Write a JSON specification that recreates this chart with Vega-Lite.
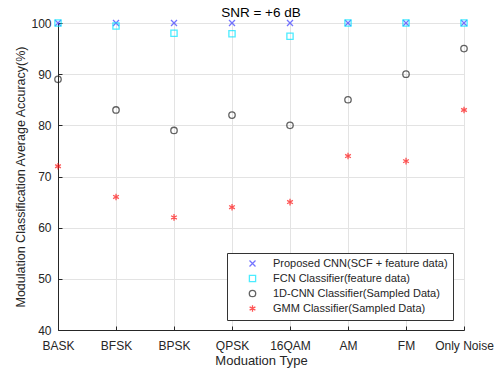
{
  "$schema": "https://vega.github.io/schema/vega-lite/v6.json",
  "width": 406,
  "height": 307,
  "autosize": {"type": "none"},
  "padding": {"left": 58, "top": 23, "right": 33, "bottom": 40},
  "background": "white",
  "title": {"text": "SNR = +6 dB", "fontSize": 13.5, "fontWeight": "normal", "font": "Liberation Sans", "color": "#000000", "offset": -2},
  "data": {"values": [
    {"mod": "BASK", "method": "Proposed CNN(SCF + feature data)", "acc": 100},
    {"mod": "BFSK", "method": "Proposed CNN(SCF + feature data)", "acc": 100},
    {"mod": "BPSK", "method": "Proposed CNN(SCF + feature data)", "acc": 100},
    {"mod": "QPSK", "method": "Proposed CNN(SCF + feature data)", "acc": 100},
    {"mod": "16QAM", "method": "Proposed CNN(SCF + feature data)", "acc": 100},
    {"mod": "AM", "method": "Proposed CNN(SCF + feature data)", "acc": 100},
    {"mod": "FM", "method": "Proposed CNN(SCF + feature data)", "acc": 100},
    {"mod": "Only Noise", "method": "Proposed CNN(SCF + feature data)", "acc": 100},
    {"mod": "BASK", "method": "FCN Classifier(feature data)", "acc": 100},
    {"mod": "BFSK", "method": "FCN Classifier(feature data)", "acc": 99.4},
    {"mod": "BPSK", "method": "FCN Classifier(feature data)", "acc": 98},
    {"mod": "QPSK", "method": "FCN Classifier(feature data)", "acc": 97.9},
    {"mod": "16QAM", "method": "FCN Classifier(feature data)", "acc": 97.4},
    {"mod": "AM", "method": "FCN Classifier(feature data)", "acc": 100},
    {"mod": "FM", "method": "FCN Classifier(feature data)", "acc": 100},
    {"mod": "Only Noise", "method": "FCN Classifier(feature data)", "acc": 100},
    {"mod": "BASK", "method": "1D-CNN Classifier(Sampled Data)", "acc": 89},
    {"mod": "BFSK", "method": "1D-CNN Classifier(Sampled Data)", "acc": 83},
    {"mod": "BPSK", "method": "1D-CNN Classifier(Sampled Data)", "acc": 79},
    {"mod": "QPSK", "method": "1D-CNN Classifier(Sampled Data)", "acc": 82},
    {"mod": "16QAM", "method": "1D-CNN Classifier(Sampled Data)", "acc": 80},
    {"mod": "AM", "method": "1D-CNN Classifier(Sampled Data)", "acc": 85},
    {"mod": "FM", "method": "1D-CNN Classifier(Sampled Data)", "acc": 90},
    {"mod": "Only Noise", "method": "1D-CNN Classifier(Sampled Data)", "acc": 95},
    {"mod": "BASK", "method": "GMM Classifier(Sampled Data)", "acc": 72},
    {"mod": "BFSK", "method": "GMM Classifier(Sampled Data)", "acc": 66},
    {"mod": "BPSK", "method": "GMM Classifier(Sampled Data)", "acc": 62},
    {"mod": "QPSK", "method": "GMM Classifier(Sampled Data)", "acc": 64},
    {"mod": "16QAM", "method": "GMM Classifier(Sampled Data)", "acc": 65},
    {"mod": "AM", "method": "GMM Classifier(Sampled Data)", "acc": 74},
    {"mod": "FM", "method": "GMM Classifier(Sampled Data)", "acc": 73},
    {"mod": "Only Noise", "method": "GMM Classifier(Sampled Data)", "acc": 83}
  ]},
  "mark": {"type": "point", "filled": false, "strokeWidth": 1.3, "clip": false},
  "encoding": {
    "x": {
      "field": "mod", "type": "ordinal",
      "scale": {"type": "point", "padding": 0, "domain": ["BASK", "BFSK", "BPSK", "QPSK", "16QAM", "AM", "FM", "Only Noise"]},
      "axis": {"title": "Moduation Type", "labelAngle": 0, "grid": true, "gridColor": "#e3e3e3",
        "domainColor": "#262626", "tickColor": "#262626", "tickSize": -4, "labelPadding": 14,
        "labelFont": "Liberation Sans", "labelFontSize": 12, "labelColor": "#262626",
        "titleFont": "Liberation Sans", "titleFontSize": 13, "titleFontWeight": "normal", "titleColor": "#262626", "titlePadding": 3}
    },
    "y": {
      "field": "acc", "type": "quantitative",
      "scale": {"domain": [40, 100], "nice": false, "zero": false},
      "axis": {"title": "Modulation Classification Average Accuracy(%)", "values": [40, 50, 60, 70, 80, 90, 100],
        "grid": true, "gridColor": "#e3e3e3", "domainColor": "#262626", "tickColor": "#262626", "tickSize": -4, "labelPadding": 11,
        "labelFont": "Liberation Sans", "labelFontSize": 12, "labelColor": "#262626",
        "titleFont": "Liberation Sans", "titleFontSize": 12.5, "titleFontWeight": "normal", "titleColor": "#262626", "titlePadding": 3}
    },
    "color": {
      "field": "method", "type": "nominal",
      "scale": {"domain": ["Proposed CNN(SCF + feature data)", "FCN Classifier(feature data)", "1D-CNN Classifier(Sampled Data)", "GMM Classifier(Sampled Data)"],
        "range": ["#3a3aff", "#00e5ff", "#222222", "#ff1010"]},
      "legend": {"title": null, "orient": "none", "legendX": 169, "legendY": 230,
        "fillColor": "white", "strokeColor": "#333333", "padding": 5, "rowPadding": 2,
        "symbolOffset": 15, "labelOffset": 15, "labelLimit": 400, "labelFont": "Liberation Sans", "labelFontSize": 11, "labelColor": "#262626",
        "symbolStrokeWidth": 1.3}
    },
    "shape": {
      "field": "method", "type": "nominal",
      "scale": {"domain": ["Proposed CNN(SCF + feature data)", "FCN Classifier(feature data)", "1D-CNN Classifier(Sampled Data)", "GMM Classifier(Sampled Data)"],
        "range": ["M-1,-1L1,1M1,-1L-1,1", "square", "circle", "M0,-1L0,1M-0.87,-0.5L0.87,0.5M-0.87,0.5L0.87,-0.5"]}
    },
    "size": {
      "field": "method", "type": "nominal", "legend": null,
      "scale": {"domain": ["Proposed CNN(SCF + feature data)", "FCN Classifier(feature data)", "1D-CNN Classifier(Sampled Data)", "GMM Classifier(Sampled Data)"],
        "range": [36, 44, 90, 72]}
    }
  },
  "config": {"view": {"stroke": null}}
}
